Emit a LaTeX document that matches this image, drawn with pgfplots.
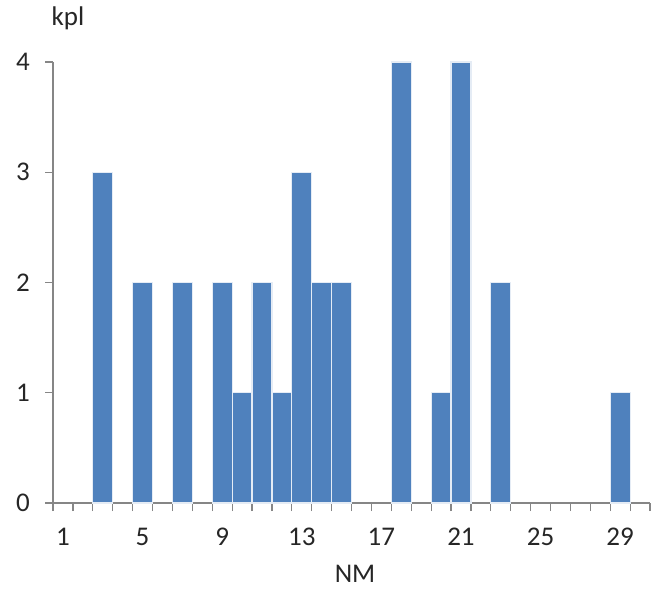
\documentclass[border=0pt]{standalone}
\usepackage{pgfplots}
\pgfplotsset{compat=1.18}
\usepackage{fontspec}
\setmainfont{Carlito}
\definecolor{barblue}{HTML}{4F81BD}
\definecolor{axgrey}{HTML}{868686}
\begin{document}
\begin{tikzpicture}
\begin{axis}[
  scale only axis,
  width=298.5pt, height=220.5pt,
  at={(0,0)}, anchor=south west,
  xmin=0.5, xmax=30.5, ymin=0, ymax=4,
  axis x line=bottom, axis y line=left,
  axis line style={axgrey, line width=0.6pt, -},
  xtick={1,5,...,29},
  minor xtick={0.5,1.5,...,30.5},
  ytick={0,1,2,3,4},
  tick align=outside,
  major tick length=4pt, minor tick length=4pt,
  x tick style={draw=none},
  minor x tick style={draw=axgrey, line width=0.6pt},
  y tick style={axgrey, line width=0.6pt},
  /pgf/number format/assume math mode=true,
  ticklabel style={font=\fontsize{13.5}{15}\selectfont, text=black!85},
  xticklabel style={yshift=-5pt},
  yticklabel style={xshift=-4pt},
  clip=false,
]
\addplot[ybar, bar width=1, fill=barblue, draw=white!85!barblue, line width=0.6pt] coordinates {
(3,3) (5,2) (7,2) (9,2) (10,1) (11,2) (12,1) (13,3) (14,2) (15,2)
(18,4) (20,1) (21,4) (23,2) (29,1)
};
\end{axis}
\node[font=\fontsize{13.5}{15}\selectfont, text=black!85] at (7.5pt,242.5pt) {kpl};
\node[font=\fontsize{13.5}{15}\selectfont, text=black!85] at (151pt,-35.5pt) {NM};
\pgfresetboundingbox
\useasboundingbox (-26.5pt,-43pt) rectangle (299pt,251.5pt);
\end{tikzpicture}
\end{document}
